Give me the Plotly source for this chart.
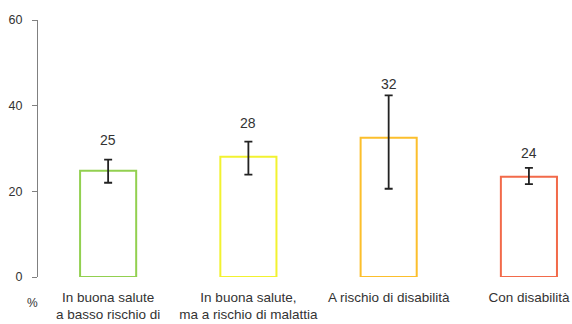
import plotly.graph_objects as go

categories = ["In buona salute<br>a basso rischio di", "In buona salute,<br>ma a rischio di malattia",
              "A rischio di disabilità", "Con disabilità"]
values = [24.8, 28.1, 32.5, 23.4]
err_upper = [27.4, 31.6, 42.4, 25.5]
err_lower = [22.0, 23.9, 20.6, 21.7]
value_labels = ["25", "28", "32", "24"]
colors = ["#92d050", "#f2f230", "#fcbf2c", "#f26a4a"]

x = list(range(len(categories)))
fig = go.Figure()
fig.add_trace(go.Bar(
    x=x, y=values, width=0.4,
    marker=dict(color="rgba(255,255,255,0)", line=dict(color=colors, width=2)),
    error_y=dict(type="data", symmetric=False,
                 array=[u - v for u, v in zip(err_upper, values)],
                 arrayminus=[v - l for l, v in zip(err_lower, values)],
                 color="#222222", thickness=1.8, width=4),
    showlegend=False, hoverinfo="skip",
))

label_shift = [20, 19, 11, 15]
for i, (u, t) in enumerate(zip(err_upper, value_labels)):
    fig.add_annotation(x=i, y=u, text=t, showarrow=False, yshift=label_shift[i],
                       yanchor="middle", font=dict(size=14, color="#333333"))

fig.add_annotation(x=0, xref="paper", y=0, yref="paper", text="%", showarrow=False,
                   xshift=-6, yshift=-35, xanchor="center", font=dict(size=12, color="#333333"))

fig.update_layout(
    width=572, height=324,
    margin=dict(l=38, r=1, t=20, b=47),
    paper_bgcolor="white", plot_bgcolor="white",
    font=dict(family="Liberation Sans, Arial", size=13, color="#333333"),
    bargap=0.6,
)
fig.update_xaxes(range=[-0.5, 3.3], tickvals=x, ticktext=categories, showline=False,
                 showgrid=False, zeroline=False, ticks="", automargin=False,
                 ticklabelstandoff=10, tickfont=dict(size=13.5, color="#333333"))
fig.update_yaxes(range=[0, 60], tickvals=[0, 20, 40, 60], showline=True, linecolor="#808080",
                 linewidth=1.2, ticks="outside", ticklen=5, tickwidth=1.2, tickcolor="#808080",
                 automargin=False, ticklabelstandoff=7,
                 showgrid=False, zeroline=False, tickfont=dict(size=12.5, color="#333333"))

fig.write_html("out.html", config={"displayModeBar": False},
               post_script="document.body.style.margin='0';")
